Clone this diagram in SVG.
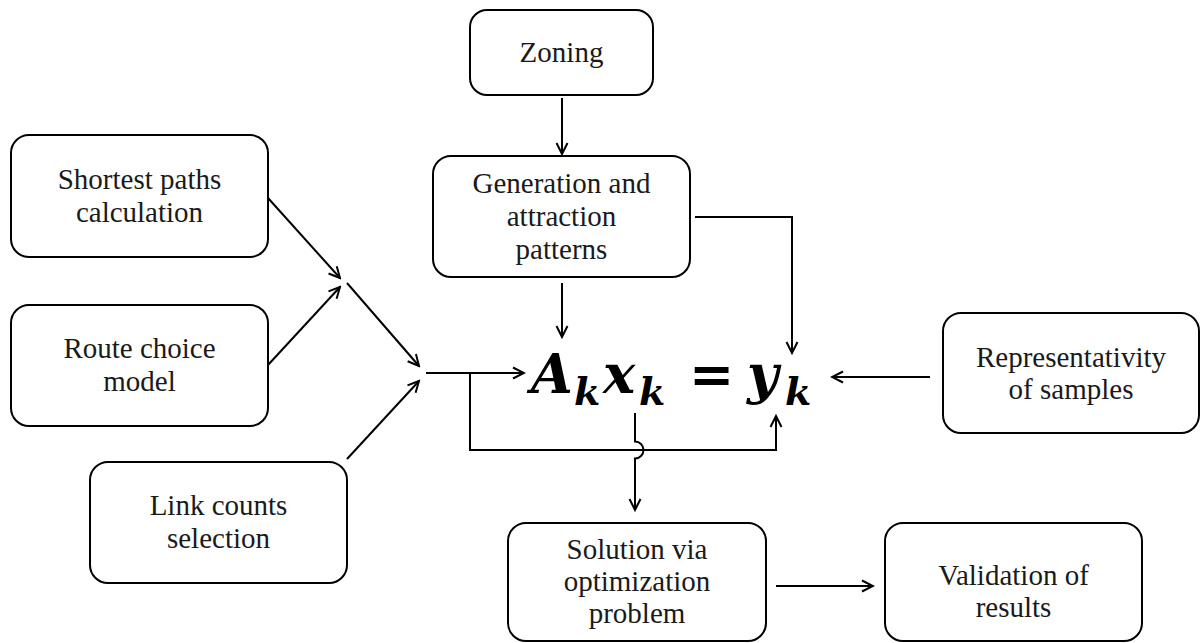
<svg xmlns="http://www.w3.org/2000/svg" width="1201" height="643" viewBox="0 0 1201 643">
<style>
.box{fill:#fff;stroke:#000;stroke-width:2}
.lbl{font-family:"Liberation Serif","Times New Roman",serif;font-size:29px;fill:#1a1a1a;text-anchor:middle}
.conn path{fill:none;stroke:#000;stroke-width:2}
.eq{font-family:"DejaVu Serif",serif;font-weight:bold;font-style:italic;fill:#000}
.big{font-size:54px}
.sub{font-size:38px}
</style>
<defs>
<marker id="arr" markerUnits="userSpaceOnUse" viewBox="-13 -7 15 14" refX="0" refY="0" markerWidth="15" markerHeight="14" orient="auto">
<path d="M-11,-5.5 L0,0 L-11,5.5" fill="none" stroke="#000" stroke-width="2" stroke-linejoin="miter"/>
</marker>
</defs>
<rect width="1201" height="643" fill="#fff"/>
<g id="zoning"><rect class="box" x="470" y="10" width="183" height="85" rx="17"/><text class="lbl" x="561.5" y="62">Zoning</text></g>
<g id="generation"><rect class="box" x="433" y="156" width="257" height="121" rx="18"/><text class="lbl" x="561.5" y="193">Generation and</text><text class="lbl" x="561.5" y="226">attraction</text><text class="lbl" x="561.5" y="259">patterns</text></g>
<g id="shortest"><rect class="box" x="11" y="135" width="257" height="122" rx="18"/><text class="lbl" x="139.5" y="189">Shortest paths</text><text class="lbl" x="139.5" y="222">calculation</text></g>
<g id="route"><rect class="box" x="11" y="305" width="257" height="121" rx="18"/><text class="lbl" x="139.5" y="358">Route choice</text><text class="lbl" x="139.5" y="391">model</text></g>
<g id="linkcounts"><rect class="box" x="90" y="462" width="257" height="121" rx="18"/><text class="lbl" x="218.5" y="515">Link counts</text><text class="lbl" x="218.5" y="548">selection</text></g>
<g id="representativity"><rect class="box" x="943" y="313" width="256" height="120" rx="18"/><text class="lbl" x="1071" y="367">Representativity</text><text class="lbl" x="1071" y="399">of samples</text></g>
<g id="solution"><rect class="box" x="508" y="523" width="258" height="118" rx="18"/><text class="lbl" x="637" y="559">Solution via</text><text class="lbl" x="637" y="591">optimization</text><text class="lbl" x="637" y="623">problem</text></g>
<g id="validation"><rect class="box" x="885" y="523" width="257" height="118" rx="18"/><text class="lbl" x="1013.5" y="585">Validation of</text><text class="lbl" x="1013.5" y="617">results</text></g>
<g id="equation" class="eq">
<text class="big" x="531" y="393">A</text>
<text class="sub" x="574" y="405">k</text>
<text class="big" x="603" y="393">x</text>
<text class="sub" x="639" y="405">k</text>
<text class="big" x="689" y="393" style="font-style:normal">=</text>
<text class="big" x="747" y="393">y</text>
<text class="sub" x="785" y="405">k</text>
</g>
<g id="connectors" class="conn">
<path d="M562,98 V154" marker-end="url(#arr)"/>
<path d="M562,283 V337" marker-end="url(#arr)"/>
<path d="M695,217 H792 V353" marker-end="url(#arr)"/>
<path d="M930,377 H832" marker-end="url(#arr)"/>
<path d="M268,198 L340,278" marker-end="url(#arr)"/>
<path d="M268,365 L340,287" marker-end="url(#arr)"/>
<path d="M347,283 L419,366" marker-end="url(#arr)"/>
<path d="M347,459 L419,381" marker-end="url(#arr)"/>
<path d="M426,373 H524" marker-end="url(#arr)"/>
<path d="M470,373 V450 H776 V416" marker-end="url(#arr)"/>
<path d="M635,413 V441.5 A8.5,8.5 0 0 1 635,458.5 V510" marker-end="url(#arr)"/>
<path d="M776,586 H873" marker-end="url(#arr)"/>
</g>
</svg>
